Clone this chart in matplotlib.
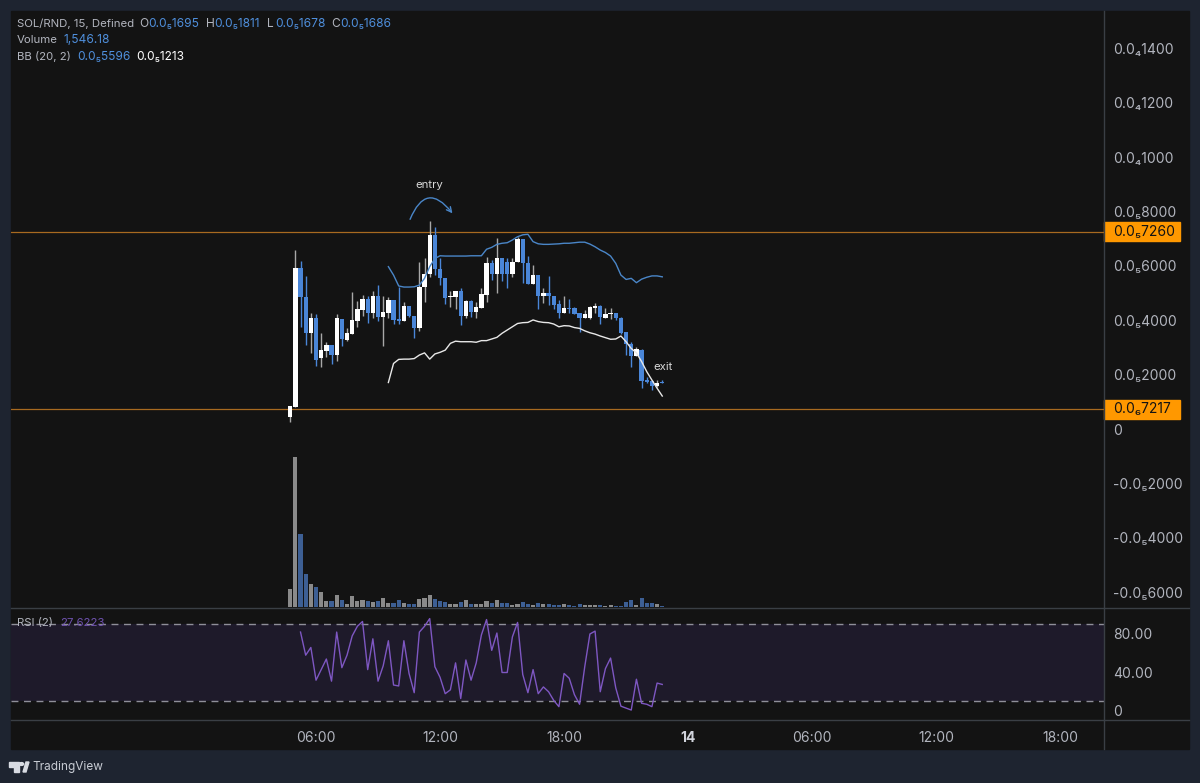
import matplotlib
matplotlib.use("Agg")
import matplotlib.pyplot as plt
from matplotlib.patches import Rectangle, Polygon, Circle

plt.rcParams['font.family'] = ['Inter', 'DejaVu Sans']

# prices are in millionths (0.0₅2000 = 2.0)
opens = [0.43, 0.82, 5.91, 4.84, 3.54, 4.07, 2.60, 2.88, 3.09, 2.72, 4.04, 3.27, 3.48, 3.98, 4.37, 4.77, 4.25, 4.89, 4.13,
         4.27, 4.74, 4.05, 3.98, 4.52, 4.15, 3.72, 5.23, 5.70, 7.12, 5.87, 5.54, 4.84, 4.84, 5.08, 4.17, 4.72, 4.29,
         4.44, 4.93, 6.11, 5.70, 6.30, 6.15, 5.70, 6.13, 6.97, 6.09, 5.32, 5.66, 4.89, 4.99, 4.89, 4.58, 4.27, 4.44,
         4.44, 4.27, 4.07, 4.07, 4.46, 4.52, 4.10, 4.22, 4.25, 4.10, 3.58, 3.12, 2.68, 2.90, 1.77, 1.77, 1.59, 1.72]
closes = [0.85, 5.93, 4.84, 3.54, 4.07, 2.53, 2.90, 3.09, 2.72, 4.07, 3.30, 3.52, 4.01, 4.40, 4.77, 4.25, 4.89, 4.13, 4.30,
          4.74, 4.00, 3.97, 4.52, 4.15, 3.72, 5.23, 5.70, 7.12, 5.87, 5.54, 4.80, 4.88, 5.08, 4.17, 4.72, 4.29, 4.50,
          4.96, 6.11, 5.70, 6.27, 5.70, 5.70, 6.15, 6.97, 6.09, 5.32, 5.66, 4.89, 4.99, 4.89, 4.56, 4.25, 4.44, 4.40,
          4.23, 4.07, 4.22, 4.47, 4.50, 4.13, 4.23, 4.25, 4.09, 3.54, 3.12, 2.68, 2.93, 1.77, 1.74, 1.59, 1.68, 1.686]
highs = [0.85, 6.58, 6.19, 5.62, 4.25, 4.22, 3.54, 3.21, 3.09, 4.23, 4.04, 3.70, 5.04, 4.72, 4.93, 4.89, 5.08, 5.29, 4.89,
         4.84, 4.74, 5.23, 4.68, 4.52, 4.15, 6.13, 6.27, 7.66, 7.44, 6.27, 5.54, 5.08, 5.08, 5.17, 4.74, 4.74, 4.68,
         5.17, 6.31, 6.21, 7.01, 6.30, 6.30, 6.30, 7.07, 6.97, 6.36, 6.03, 5.66, 5.17, 5.63, 4.89, 4.74, 4.89, 4.78,
         4.47, 4.27, 4.37, 4.52, 4.62, 4.56, 4.44, 4.44, 4.25, 4.13, 3.58, 3.21, 3.03, 2.93, 1.92, 1.80, 1.80, 1.81]
lows = [0.27, 0.80, 3.76, 3.09, 2.78, 2.33, 2.29, 2.63, 2.38, 2.50, 3.06, 3.25, 3.48, 3.76, 4.17, 3.88, 4.07, 3.97, 3.05,
        4.07, 3.86, 3.86, 3.97, 4.13, 3.33, 3.61, 4.66, 5.60, 5.66, 5.29, 4.60, 4.50, 4.43, 3.82, 4.07, 4.13, 4.07,
        4.44, 4.68, 5.48, 4.99, 5.45, 5.17, 5.60, 6.13, 5.36, 5.32, 5.32, 4.40, 4.62, 4.56, 4.40, 4.10, 4.27, 4.25,
        4.23, 3.58, 4.07, 4.04, 4.25, 3.86, 4.10, 4.06, 4.01, 3.49, 2.74, 2.29, 2.68, 1.52, 1.68, 1.43, 1.55, 1.678]

volumes = [27.5, 224.5, 109.5, 49.5, 34.5, 30, 22, 9.5, 8.5, 18.5, 11, 5, 16, 9, 10, 9, 8, 9.5, 13,
           6, 6, 11, 6, 4.5, 5, 11.5, 13.5, 17.5, 12, 8.5, 7.5, 5, 5, 8, 11, 5, 4,
           4, 9, 6.5, 11, 6, 5.5, 3, 4.5, 7.5, 4, 3.5, 6.5, 4, 5, 3.5, 3.5, 4, 3,
           2, 4.5, 2.5, 2.5, 3, 2.5, 2, 2.5, 2, 2, 7.5, 11, 3, 14, 6.5, 6.5, 4, 1.5]

bb_upper = [5.97, 5.66, 5.26, 5.22, 5.22, 5.23, 5.29, 5.54, 5.97, 6.27, 6.37, 6.36, 6.36, 6.36, 6.36, 6.36, 6.37, 6.37,
            6.37, 6.61, 6.68, 6.79, 6.83, 6.85, 6.95, 7.07, 7.14, 7.16, 6.89, 6.81, 6.79, 6.79, 6.80, 6.81, 6.83, 6.83,
            6.85, 6.87, 6.87, 6.80, 6.70, 6.58, 6.49, 6.36, 6.09, 5.66, 5.50, 5.54, 5.38, 5.51, 5.58, 5.63, 5.63, 5.596]
bb_lower = [1.71, 2.41, 2.56, 2.57, 2.57, 2.59, 2.72, 2.80, 2.57, 2.76, 2.82, 2.90, 3.15, 3.23, 3.21, 3.21, 3.21, 3.19,
            3.25, 3.25, 3.31, 3.37, 3.52, 3.64, 3.76, 3.88, 3.91, 3.92, 4.01, 3.95, 3.92, 3.91, 3.86, 3.76, 3.80, 3.79,
            3.73, 3.70, 3.61, 3.54, 3.49, 3.42, 3.36, 3.30, 3.31, 3.42, 3.21, 2.96, 2.80, 2.48, 2.11, 1.80, 1.50, 1.213]

rsi = [82, 58, 66, 32, 43, 54, 31, 82, 45, 58, 78, 88, 93, 43, 75, 31, 47, 73, 27, 26, 73, 39, 19, 82, 88, 96, 46, 35,
       18, 22, 50, 13, 53, 32, 50, 79, 95, 63, 81, 40, 40, 77, 92, 38, 19, 43, 18, 25, 20, 11, 4.5, 39, 34, 17, 7, 46,
       80, 83, 20, 44, 55, 24, 5, 3, 1, 33, 8, 7, 4.5, 29, 27.6]

bar_hours = [4.75 + 0.25 * i for i in range(len(opens))]
bb_hours = bar_hours[19:]
rsi_hours = bar_hours[2:]

price_ticks = [-6, -4, -2, 0, 2, 4, 6, 8, 10, 12, 14]
price_labels = ['-0.0₅6000', '-0.0₅4000', '-0.0₅2000', '0', '0.0₅2000', '0.0₅4000', '0.0₅6000', '0.0₅8000',
                '0.0₄1000', '0.0₄1200', '0.0₄1400']
rsi_ticks = [0, 40, 80]
rsi_labels = ['0', '40.00', '80.00']
time_ticks = [6, 12, 18, 24, 30, 36, 42]
time_labels = ['06:00', '12:00', '18:00', '14', '06:00', '12:00', '18:00']

level_top = 7.26
level_bottom = 0.7217

BG = '#1e2430'
PANE = '#131313'
UP = '#ffffff'
DOWN = '#4a86d8'
GRID = '#3a3f45'
LABEL = '#b2b5be'
W = 1200
H = 783


def px_axes(fig, x0, y0, x1, y1):
    return fig.add_axes([x0 / W, 1 - y1 / H, (x1 - x0) / W, (y1 - y0) / H])


def label(x, y, s, color=LABEL, size=8.6, **kw):
    fig.text(x / W, 1 - y / H, s, color=color, fontsize=size, va='center', **kw)


fig = plt.figure(figsize=(12, 7.83), dpi=100, facecolor=BG)
fig.patches.append(Rectangle((11 / W, 1 - 749 / H), 1178 / W, 738 / H, transform=fig.transFigure, color=PANE, zorder=-5))

# volume pane sits under the candles, same area
ax_vol = px_axes(fig, 11, 11, 1104, 607)
ax_vol.set_xlim(-8.756, 44.12)
ax_vol.set_ylim(0, 894)
ax_vol.axis('off')
vol_colors = ['#8a8a8a' if c >= o else '#3d5f94' for o, c in zip(opens, closes)]
ax_vol.bar(bar_hours, volumes, width=0.2, color=vol_colors)

ax = px_axes(fig, 11, 11, 1104, 607)
ax_rsi = px_axes(fig, 11, 608, 1104, 720)
ax.patch.set_visible(False)
ax_rsi.set_facecolor(PANE)

for a in [ax, ax_rsi]:
    a.set_xlim(-8.756, 44.12)
    for s in a.spines.values():
        s.set_visible(False)
    a.yaxis.tick_right()
    a.tick_params(axis='y', length=0, pad=6.5, labelsize=10, labelcolor=LABEL)
    a.tick_params(axis='x', length=0)

# candles
ax.set_ylim(-6.544, 15.37)
for t, o, h, l, c in zip(bar_hours, opens, highs, lows, closes):
    up = c >= o
    ax.plot([t, t], [l, h], color='#a8a8a8' if up else DOWN, lw=1.0, zorder=3, solid_capstyle='butt')
    ax.bar(t, max(abs(c - o), 0.05), bottom=min(o, c), width=0.21, color=UP if up else DOWN, zorder=4)

ax.plot(bb_hours, bb_upper, color='#4a86c8', lw=1.0, zorder=5)
ax.plot(bb_hours, bb_lower, color='#e8e8e8', lw=1.0, zorder=5)

ax.axhline(level_top, color='#a86a20', lw=0.9, zorder=2)
ax.axhline(level_bottom, color='#a86a20', lw=0.9, zorder=2)

ax.set_xticks([])
ax.set_yticks(price_ticks)
ax.set_yticklabels(price_labels)
for t in ax.get_yticklabels():
    t.set_horizontalalignment('left')

# price labels of the two levels
for level, s in [(level_top, '0.0₅7260'), (level_bottom, '0.0₆7217')]:
    ax.add_patch(Rectangle((1.0, level - 0.36), 76 / 1093, 0.72, transform=ax.get_yaxis_transform(), color='#ff9800',
                           clip_on=False, zorder=9))
    ax.text(1.00823, level, s, transform=ax.get_yaxis_transform(), color='#131313', fontsize=10, va='center', ha='left',
            zorder=10, clip_on=False)

# drawings on the chart
ax.annotate('', xy=(12.6, 7.93), xytext=(10.55, 7.71),
            arrowprops=dict(arrowstyle='->', color='#4a86c8', lw=1.0, connectionstyle='arc3,rad=-0.85',
                            shrinkA=0, shrinkB=0, mutation_scale=9), zorder=6)
ax.text(11.47, 8.97, 'entry', color='#d8d8d8', fontsize=8.2, ha='center', va='center')
ax.text(22.79, 2.28, 'exit', color='#d8d8d8', fontsize=8.2, ha='center', va='center')

# RSI pane
ax_rsi.set_ylim(-9.35, 107.0)
ax_rsi.axhspan(10, 90, color='#1e1a2a', lw=0, zorder=1)
ax_rsi.axhline(90, color='#8f8f99', lw=1.0, dashes=(5, 4), zorder=2)
ax_rsi.axhline(10, color='#8f8f99', lw=1.0, dashes=(5, 4), zorder=2)
ax_rsi.plot(rsi_hours, rsi, color='#7e57c2', lw=1.0, zorder=3)
ax_rsi.set_yticks(rsi_ticks)
ax_rsi.set_yticklabels(rsi_labels)
for t in ax_rsi.get_yticklabels():
    t.set_horizontalalignment('left')
ax_rsi.set_xticks(time_ticks)
ax_rsi.set_xticklabels(time_labels, fontsize=10, color=LABEL)
ax_rsi.tick_params(axis='x', pad=8)
ax_rsi.get_xticklabels()[3].set_fontweight('bold')
ax_rsi.get_xticklabels()[3].set_color('#d1d4dc')

# pane separators
fig.add_artist(plt.Line2D([11 / W, 1189 / W], [1 - 607.5 / H] * 2, color=GRID, lw=1))
fig.add_artist(plt.Line2D([11 / W, 1189 / W], [1 - 720 / H] * 2, color=GRID, lw=1))
fig.add_artist(plt.Line2D([1104 / W, 1104 / W], [1 - 11 / H, 1 - 749 / H], color=GRID, lw=1))

# legend at top left
VAL = '#4f8fdc'
label(17, 24, 'SOL/RND, 15, Defined', size=8.2)
label(139, 24, 'O')
label(148, 24, '0.0₅1695', VAL)
label(206, 24, 'H')
label(214, 24, '0.0₅1811', VAL)
label(267, 24, 'L')
label(275, 24, '0.0₅1678', VAL)
label(331, 24, 'C')
label(340, 24, '0.0₅1686', VAL)
label(17, 40, 'Volume', size=8.2)
label(63, 40, '1,546.18', VAL)
label(17, 57, 'BB (20, 2)', size=8.2)
label(77, 57, '0.0₅5596', VAL)
label(136, 57, '0.0₅1213', '#ffffff')
label(17, 623, 'RSI (2)', size=8.2)
label(60, 623, '27.6223', '#6f52b0', 8.2)

# TradingView mark
logo = [[(9, 762), (19, 762), (19, 772), (14, 772), (14, 767), (9, 767)],
        [(23, 772), (26, 762), (29, 762), (26, 772)]]
for pts in logo:
    fig.patches.append(Polygon([(x / W, 1 - y / H) for x, y in pts], transform=fig.transFigure, color='#d8dbe2'))
fig.patches.append(Circle((21.5 / W, 1 - 764 / H), 0.0018, transform=fig.transFigure, color='#d8dbe2'))
label(32, 767, 'TradingView', '#c8ccd4', 8.5)

fig.savefig('out.png', dpi=100, facecolor=BG)
